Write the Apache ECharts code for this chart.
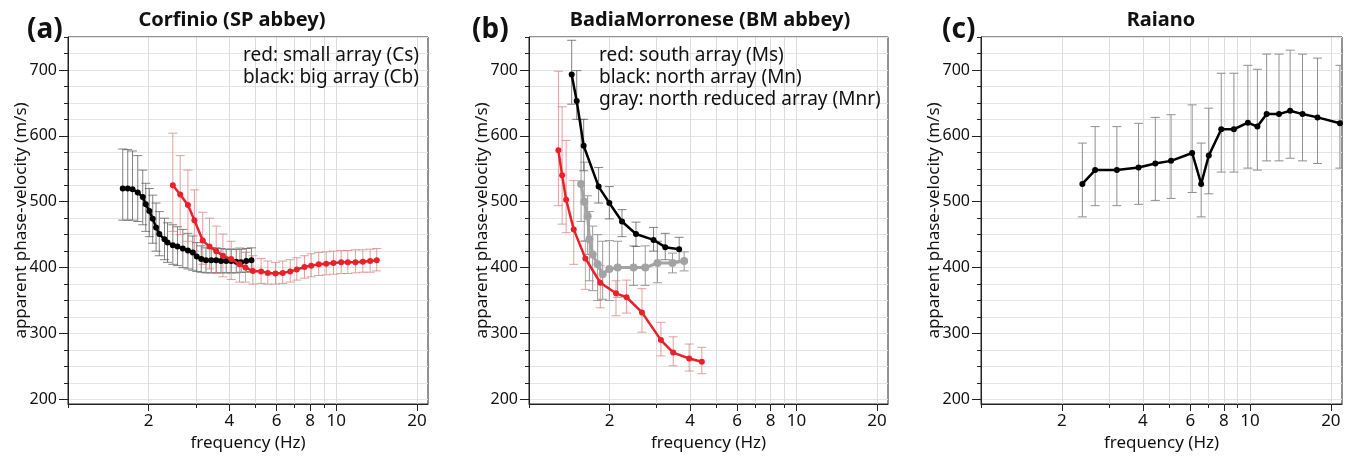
<!DOCTYPE html>
<html><head><meta charset="utf-8">
<script src="https://cdn.jsdelivr.net/npm/echarts@6/dist/echarts.min.js"></script>
<style>html,body{margin:0;padding:0;background:#fff}#c{width:1353px;height:459px}</style>
</head><body><div id="c"></div>
<script>
// ---------- data ----------
// Panel (a) Corfinio
const aBlackFreq = [1.60,1.67,1.74,1.82,1.90,1.95,2.01,2.07,2.13,2.19,2.29,2.35,2.46,2.56,2.68,2.80,2.92,3.02,3.14,3.27,3.42,3.57,3.72,3.89,4.06,4.24,4.42,4.62,4.83];
const aBlackVel  = [520,520,519,514,507,496,486,474,461,451,443,438,434,432,429,426,423,417,413,411,411,411,410,410,410,409,408,410,411];
const aBlackHi   = [580,579,577,570,548,528,520,510,498,485,475,468,465,462,458,452,448,438,433,430,430,430,429,428,428,428,428,429,430];
const aBlackLo   = [472,472,472,470,465,455,447,437,425,418,412,408,405,403,400,398,396,394,393,392,392,392,392,392,392,392,393,393,394];
const aRedFreq = [2.46,2.62,2.80,2.96,3.18,3.37,3.57,3.78,4.06,4.36,4.59,4.89,5.25,5.56,5.94,6.32,6.74,7.13,7.62,8.07,8.61,9.18,9.77,10.44,11.05,11.80,12.57,13.39,14.17];
const aRedVel  = [525,511,495,472,441,432,425,418,413,405,400,395,394,392,391,392,394,397,401,403,405,406,407,408,408,408,409,410,411];
const aRedHi   = [604,570,548,518,484,475,463,451,440,430,423,418,414,410,408,410,412,415,418,421,423,424,425,426,426,427,427,428,429];
const aRedLo   = [455,450,440,425,405,398,392,386,382,378,378,375,376,375,375,376,378,381,384,386,388,389,390,391,391,392,393,393,395];
// Panel (b) Badia Morronese
const bBlackFreq = [1.444,1.508,1.601,1.821,1.997,2.227,2.512,2.922,3.232,3.643];
const bBlackVel  = [693,653,585,523,498,470,451,442,431,428];
const bBlackHi   = [745,699,625,552,523,488,469,461,452,446];
const bBlackLo   = [648,625,547,498,474,447,432,425,412,410];
const bRedFreq = [1.288,1.330,1.377,1.470,1.625,1.848,2.115,2.317,2.645,3.114,3.461,3.971,4.429];
const bRedVel  = [578,540,503,458,414,377,361,355,332,290,271,262,257];
const bRedHi   = [698,644,593,532,441,403,380,381,368,317,295,284,279];
const bRedLo   = [494,466,453,405,367,339,327,331,302,266,251,243,239];
const bGrayFreq = [1.566,1.610,1.657,1.682,1.730,1.806,1.886,1.997,2.145,2.460,2.721,3.024,3.440,3.804];
const bGrayVel  = [527,500,478,443,420,405,390,398,400,400,400,407,407,410];
const bGrayHi   = [625,560,509,485,463,450,440,441,440,433,433,440,422,424];
const bGrayLo   = [470,440,420,380,365,350,352,350,355,373,373,377,392,395];
// Panel (c) Raiano
const cFreq = [2.382,2.657,3.201,3.853,4.448,5.090,6.098,6.588,7.031,7.824,8.718,9.829,10.66,11.54,12.83,14.11,15.69,17.84,21.61];
const cVel  = [527,548,548,552,558,562,574,527,570,610,610,620,614,633,633,638,633,628,619];
const cHi   = [589,614,614,619,628,632,647,589,642,695,695,707,701,724,724,730,724,718,707];
const cLo   = [477,494,494,496,502,505,514,477,512,545,545,551,548,562,562,566,562,558,551];
// axis ticks
const xLabelTicks = [2,4,6,8,10,20];
const xGridTicks  = [1,2,3,4,5,6,7,8,9,10,20];
const yLabelTicks = [200,300,400,500,600,700];
const yMinorTicks = [200,225,250,275,300,325,350,375,400,425,450,475,500,525,550,575,600,625,650,675,700,725,750];
const freqMin = 1, freqMax = 22, velMin = 193, velMax = 750;

// ---------- chart ----------
const FONT = '"Noto Sans", "DejaVu Sans", sans-serif';
const TXT = '#111';
const lg = v => Math.log10(v);
const grids = [
  {left: 68, top: 37, width: 360, height: 367},
  {left: 529, top: 37, width: 359, height: 367},
  {left: 981, top: 37, width: 361, height: 367}
];
const xAxes = [], yAxes = [];
grids.forEach((g, gi) => {
  xAxes.push({
    gridIndex: gi, type: 'value', position: 'bottom', min: lg(freqMin), max: lg(freqMax),
    axisLine: {show: true, onZero: false, lineStyle: {color: '#222', width: 1}},
    axisTick: {show: true, length: 4, customValues: xGridTicks.map(lg), lineStyle: {color: '#222'}},
    axisLabel: {show: false},
    splitLine: {show: true, lineStyle: {color: '#dcdcdc', width: 1}}
  });
  xAxes.push({
    gridIndex: gi, type: 'value', position: 'bottom', min: lg(freqMin), max: lg(freqMax),
    axisLine: {show: false, onZero: false},
    axisTick: {show: true, length: 7, customValues: xLabelTicks.map(lg), lineStyle: {color: '#222'}},
    axisLabel: {show: true, customValues: xLabelTicks.map(lg), formatter: v => String(Math.round(Math.pow(10, v))),
      fontFamily: FONT, fontSize: 17, color: TXT, margin: 9},
    splitLine: {show: false},
    name: 'frequency (Hz)', nameLocation: 'middle', nameGap: 31,
    nameTextStyle: {fontFamily: FONT, fontSize: 17, color: TXT}
  });
  yAxes.push({
    gridIndex: gi, type: 'value', position: 'left', min: velMin, max: velMax,
    axisLine: {show: true, onZero: false, lineStyle: {color: '#222', width: 1}},
    axisTick: {show: true, length: 4, customValues: yMinorTicks, lineStyle: {color: '#222'}},
    axisLabel: {show: false},
    splitLine: {show: true, lineStyle: {color: '#e4e4e4', width: 1}}
  });
  yAxes.push({
    gridIndex: gi, type: 'value', position: 'left', min: velMin, max: velMax,
    axisLine: {show: false, onZero: false},
    axisTick: {show: true, length: 9, customValues: yLabelTicks, lineStyle: {color: '#222'}},
    axisLabel: {show: true, customValues: yLabelTicks, fontFamily: FONT, fontSize: 16, color: TXT, margin: 11},
    splitLine: {show: false},
    name: 'apparent phase-velocity (m/s)', nameLocation: 'middle', nameGap: 38, nameRotate: 90,
    nameMoveOverlap: false,
    nameTextStyle: {fontFamily: FONT, fontSize: 17, color: TXT}
  });
});

function errSeries(gi, freq, lo, hi, color) {
  return {
    type: 'custom', xAxisIndex: gi * 2, yAxisIndex: gi * 2, z: 2, clip: true, silent: true,
    data: freq.map((f, i) => [lg(f), lo[i], hi[i]]),
    renderItem: function (params, api) {
      const x = api.value(0);
      const p1 = api.coord([x, api.value(2)]);
      const p2 = api.coord([x, api.value(1)]);
      const w = 4.5;
      const st = {stroke: color, lineWidth: 1};
      return {type: 'group', children: [
        {type: 'line', shape: {x1: p1[0], y1: p1[1], x2: p2[0], y2: p2[1]}, style: st},
        {type: 'line', shape: {x1: p1[0] - w, y1: p1[1], x2: p1[0] + w, y2: p1[1]}, style: st},
        {type: 'line', shape: {x1: p2[0] - w, y1: p2[1], x2: p2[0] + w, y2: p2[1]}, style: st}
      ]};
    }
  };
}
function lineSeries(gi, freq, vel, color, size, width, z) {
  return {
    type: 'line', xAxisIndex: gi * 2, yAxisIndex: gi * 2, z: z, silent: true,
    data: freq.map((f, i) => [lg(f), vel[i]]),
    symbol: 'circle', symbolSize: size, showSymbol: true,
    lineStyle: {color: color, width: width}, itemStyle: {color: color}
  };
}
const RED = '#e8212b', RED_ERR = 'rgba(214,120,120,0.7)', BLK_ERR = 'rgba(90,90,90,0.75)', GRAY = '#a3a3a3', GRAY_ERR = '#9a9a9a';

const series = [
  errSeries(0, aBlackFreq, aBlackLo, aBlackHi, BLK_ERR),
  errSeries(0, aRedFreq, aRedLo, aRedHi, RED_ERR),
  lineSeries(0, aBlackFreq, aBlackVel, '#000', 6, 2.5, 5),
  lineSeries(0, aRedFreq, aRedVel, RED, 6, 2.5, 6),
  errSeries(1, bRedFreq, bRedLo, bRedHi, RED_ERR),
  errSeries(1, bGrayFreq, bGrayLo, bGrayHi, GRAY_ERR),
  errSeries(1, bBlackFreq, bBlackLo, bBlackHi, BLK_ERR),
  lineSeries(1, bGrayFreq, bGrayVel, GRAY, 8, 3, 4),
  lineSeries(1, bBlackFreq, bBlackVel, '#000', 6, 2.5, 5),
  lineSeries(1, bRedFreq, bRedVel, RED, 6, 2.5, 6),
  errSeries(2, cFreq, cLo, cHi, '#8f8f8f'),
  lineSeries(2, cFreq, cVel, '#000', 6, 2.5, 5)
];

function txt(x, y, s, size, bold, align) {
  return {type: 'text', x: x, y: y, z: 100, silent: true,
    style: {text: s, fill: TXT, font: (bold ? 'bold ' : '') + size + 'px ' + FONT, textAlign: align || 'left', textVerticalAlign: 'middle'}};
}
const graphics = [
  txt(27, 30, '(a)', 28, true),
  txt(472, 30, '(b)', 28, true),
  txt(942, 30, '(c)', 28, true),
  txt(232, 20, 'Corfinio (SP abbey)', 20, true, 'center'),
  txt(710, 20, 'BadiaMorronese (BM abbey)', 20, true, 'center'),
  txt(1161, 20, 'Raiano', 20, true, 'center'),
  txt(419, 56, 'red: small array (Cs)', 19, false, 'right'),
  txt(419, 78, 'black: big array (Cb)', 19, false, 'right'),
  txt(599, 56, 'red: south array (Ms)', 19, false, 'left'),
  txt(599, 78, 'black: north array (Mn)', 19, false, 'left'),
  txt(599, 100, 'gray: north reduced array (Mnr)', 19, false, 'left')
];

const chart = echarts.init(document.getElementById('c'), null, {renderer: 'canvas'});
chart.setOption({
  animation: false,
  backgroundColor: '#fff',
  grid: grids.map(g => Object.assign({show: true, borderColor: '#222', borderWidth: 1, backgroundColor: 'transparent', containLabel: false}, g)),
  xAxis: xAxes,
  yAxis: yAxes,
  series: series,
  graphic: graphics
});
</script></body></html>
